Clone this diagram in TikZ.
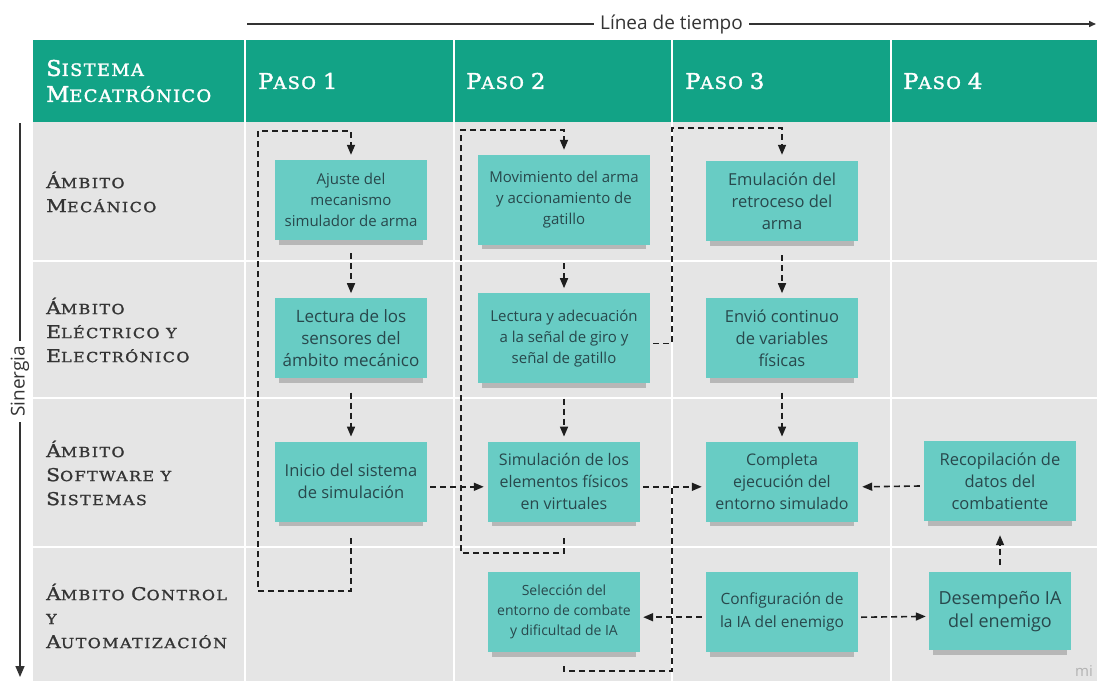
\documentclass[tikz,border=0pt]{standalone}
\usepackage{fontspec}
\setmainfont{Open Sans}
\newfontfamily\slabfont[FakeStretch=1.15,LetterSpace=10,FakeBold=1.2]{DejaVu Serif}
\newfontfamily\slabhead[FakeStretch=1.05,LetterSpace=8,FakeBold=1.8]{DejaVu Serif}
\usetikzlibrary{positioning, arrows.meta, shadows}
\definecolor{headgreen}{RGB}{18,163,134}
\definecolor{cellgrey}{RGB}{229,229,229}
\definecolor{notefill}{RGB}{104,204,196}
\definecolor{notetext}{RGB}{40,72,76}
\definecolor{labeltext}{RGB}{52,52,52}
\definecolor{linedark}{RGB}{30,30,30}
\newcommand{\ini}[1]{\scalebox{1.27}{#1}}
\tikzset{
  note/.style={
    rectangle,
    fill=notefill,
    minimum width=152pt,
    minimum height=80pt,
    inner sep=3pt,
    align=center,
    text=notetext,
    font=\fontsize{16}{22}\selectfont,
    general shadow={fill=black, opacity=0.2, shadow scale=0.95, shadow yshift=-7pt}
  },
  rowlabel/.style={
    anchor=west,
    align=left,
    inner sep=0pt,
    text=labeltext,
    font=\slabfont\fontsize{13.9}{24}\selectfont
  },
  headlabel/.style={
    anchor=west,
    align=left,
    inner sep=0pt,
    text=white,
    font=\slabhead\fontsize{17}{26}\selectfont
  },
  sepline/.style={white, line width=2pt},
  dashline/.style={draw=linedark, line width=1.6pt, dash pattern=on 6pt off 4pt},
  flow/.style={dashline, -{Triangle[length=10pt,width=8pt]}},
  axis/.style={draw=black!80, line width=1.5pt}
}
\begin{document}
\begin{tikzpicture}[x=1pt, y=-1pt]
    \useasboundingbox (0,0) rectangle (1097,681);
    % table background
    \fill[headgreen] (33,40) rectangle (1097,122);
    \fill[cellgrey] (33,122) rectangle (1097,681);
    \foreach \x in {245,454,672,891}
        \draw[sepline] (\x,40) -- (\x,681);
    \foreach \y in {261,398,547}
        \draw[sepline] (33,\y) -- (1097,\y);

    % header
    \node[headlabel] (hd0) at (46,81) {\ini{S}ISTEMA\\\ini{M}ECATRÓNICO};
    \node[headlabel] (hd1) at (258,81) {\ini{P}ASO \ini{1}};
    \node[headlabel] (hd2) at (466,81) {\ini{P}ASO \ini{2}};
    \node[headlabel] (hd3) at (685,81) {\ini{P}ASO \ini{3}};
    \node[headlabel] (hd4) at (903,81) {\ini{P}ASO \ini{4}};

    % row labels
    \node[rowlabel] (rw1) at (46,192) {\ini{Á}MBITO\\\ini{M}ECÁNICO};
    \node[rowlabel] (rw2) at (46,330) {\ini{Á}MBITO\\\ini{E}LÉCTRICO Y\\\ini{E}LECTRÓNICO};
    \node[rowlabel] (rw3) at (46,473) {\ini{Á}MBITO\\\ini{S}OFTWARE Y\\\ini{S}ISTEMAS};
    \node[rowlabel] (rw4) at (46,616) {\ini{Á}MBITO \ini{C}ONTROL\\Y\\\ini{A}UTOMATIZACIÓN};

    % axes
    \coordinate (tlA) at (247,24);
    \coordinate (tlB) at (1096,24);
    \draw[axis, -{Triangle[length=7pt,width=6pt]}] (tlA) -- node[fill=white, inner xsep=6pt, inner ysep=1pt, text=labeltext, font=\fontsize{19}{22}\selectfont] (tltext) {Línea de tiempo} (tlB);
    \coordinate (snA) at (20,123);
    \coordinate (snB) at (20,677);
    \draw[axis, -{Triangle[length=11pt,width=9pt]}] (snA) -- node[pos=0.466, rotate=90, fill=white, inner xsep=5pt, inner ysep=1pt, text=labeltext, font=\fontsize{19}{22}\selectfont] (sntext) {Sinergia} (snB);

    % paso 1
    \node[note, font=\fontsize{15}{21}\selectfont] (n11) at (351,200) {Ajuste del\\mecanismo\\simulador de arma};
    \node[note, below=58pt of n11, font=\fontsize{17}{22}\selectfont] (n12) {Lectura de los\\sensores del\\ámbito mecánico};
    \node[note, below=63pt of n12, font=\fontsize{16.5}{22}\selectfont] (n13) {Inicio del sistema\\de simulación};

    % paso 2
    \node[note, minimum width=172pt, minimum height=90pt, font=\fontsize{15}{21}\selectfont] (n21) at (564,200) {Movimiento del arma\\y accionamiento de\\gatillo};
    \node[note, minimum width=172pt, minimum height=90pt, below=48pt of n21, font=\fontsize{15}{21}\selectfont] (n22) {Lectura y adecuación\\a la señal de giro y\\señal de gatillo};
    \node[note, below=58pt of n22] (n23) {Simulación de los\\elementos físicos\\en virtuales};
    \node[note, below=50pt of n23, font=\fontsize{14}{20}\selectfont] (n24) {Selección del\\entorno de combate\\y dificultad de IA};

    % paso 3
    \node[note, font=\fontsize{16.5}{22}\selectfont] (n31) at (782,201) {Emulación del\\retroceso del\\arma};
    \node[note, below=57pt of n31, font=\fontsize{16.5}{22}\selectfont] (n32) {Envió continuo\\de variables\\físicas};
    \node[note, below=63pt of n32] (n33) {Completa\\ejecución del\\entorno simulado};
    \node[note, below=50pt of n33, font=\fontsize{15.5}{23}\selectfont] (n34) {Configuración de\\la IA del enemigo};

    % paso 4
    \node[note, font=\fontsize{16.5}{22}\selectfont] (n43) at (1000,481) {Recopilación de\\datos del\\combatiente};
    \node[note, minimum width=142pt, minimum height=78pt, below=51pt of n43, font=\fontsize{18}{23}\selectfont] (n44) {Desempeño IA\\del enemigo};

    % connectors paso 1
    \coordinate (lp1b) at (258,591);
    \coordinate (lp1t) at (258,131);
    \draw[flow] ([yshift=-16pt]n13.south) |- (lp1b) -- (lp1t) -| ([yshift=5pt]n11.north);
    \draw[flow] ([yshift=-13pt]n11.south) -- ([yshift=5pt]n12.north);
    \draw[flow] ([yshift=-14pt]n12.south) -- ([yshift=5pt]n13.north);
    \draw[flow] ([xshift=3pt,yshift=-5pt]n13.east) -- ([xshift=-4pt,yshift=-5pt]n23.west);

    % connectors paso 2
    \coordinate (lp2b) at (461,553);
    \coordinate (lp2t) at (461,130);
    \draw[flow] ([yshift=-16pt]n23.south) |- (lp2b) -- (lp2t) -| ([yshift=5pt]n21.north);
    \draw[flow] ([yshift=-18pt]n21.south) -- ([yshift=5pt]n22.north);
    \draw[flow] ([yshift=-15pt]n22.south) -- ([yshift=5pt]n23.north);
    \draw[flow] ([xshift=3pt,yshift=-5pt]n23.east) -- ([xshift=-4pt,yshift=-5pt]n33.west);
    \coordinate (lp3t) at (672,128);
    \draw[flow] ([xshift=3pt,yshift=-5pt]n22.east) -| (lp3t) -| ([yshift=6pt]n31.north);

    % connectors paso 3
    \draw[flow] ([yshift=-14pt]n31.south) -- ([yshift=5pt]n32.north);
    \draw[flow] ([yshift=-14pt]n32.south) -- ([yshift=5pt]n33.north);
    \draw[flow] ([xshift=-4pt,yshift=-5pt]n34.west) -- ([xshift=3pt,yshift=-5pt]n24.east);
    \draw[flow] ([xshift=3pt,yshift=-5pt]n34.east) -- ([xshift=-3pt,yshift=-5pt]n44.west);
    \coordinate (jn) at (672,486);
    \coordinate (lp4b) at (672,671);
    \draw[dashline] ([yshift=-14pt]n24.south) |- (lp4b) -- (jn);

    % connectors paso 4
    \draw[flow] ([xshift=-4pt,yshift=-5pt]n43.west) -- ([xshift=4pt,yshift=-5pt]n33.east);
    \draw[flow] ([yshift=7pt]n44.north) -- ([yshift=-14pt]n43.south);

    % watermark
    \node[anchor=south east, inner sep=1pt, text=black!30, font=\fontsize{15}{18}\selectfont] (wm) at (1094,678) {mi};
\end{tikzpicture}
\end{document}
